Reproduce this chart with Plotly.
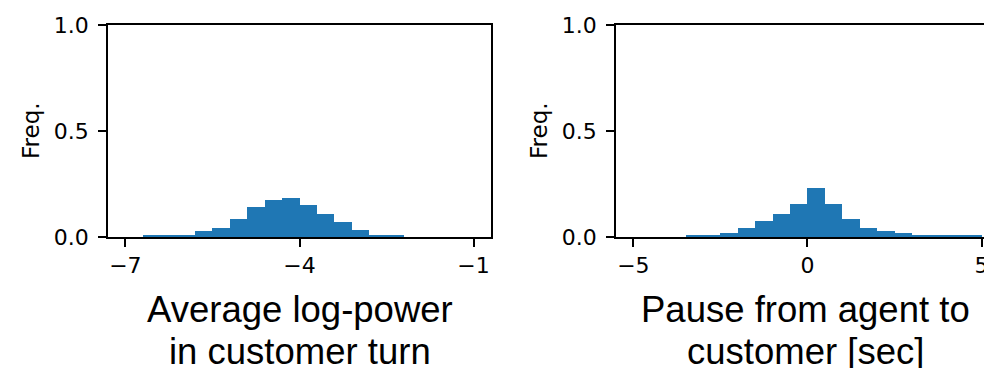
import plotly.graph_objects as go

# ---- data ----
power_bin_left = [-7.0, -6.7, -6.4, -6.1, -5.8, -5.5, -5.2, -4.9, -4.6, -4.3,
                  -4.0, -3.7, -3.4, -3.1, -2.8, -2.5, -2.2, -1.9, -1.6, -1.3]
power_bin_width = 0.3
power_freq = [0.0, 0.008, 0.008, 0.009, 0.027, 0.044, 0.083, 0.140, 0.176, 0.184,
              0.150, 0.110, 0.069, 0.035, 0.010, 0.010, 0.0, 0.0, 0.0, 0.0]

pause_bin_left = [-5.0, -4.5, -4.0, -3.5, -3.0, -2.5, -2.0, -1.5, -1.0, -0.5,
                  0.0, 0.5, 1.0, 1.5, 2.0, 2.5, 3.0, 3.5, 4.0, 4.5]
pause_bin_width = 0.5
pause_freq = [0.0, 0.0, 0.0, 0.009, 0.009, 0.017, 0.042, 0.075, 0.108, 0.157,
              0.231, 0.157, 0.083, 0.042, 0.027, 0.017, 0.009, 0.009, 0.009, 0.009]

power_ticks = [-7, -4, -1]
pause_ticks = [-5, 0, 5]
freq_ticks = [0.0, 0.5, 1.0]

y_label = "Freq."
power_title = ["Average log-power", "in customer turn"]
pause_title = ["Pause from agent to", "customer [sec]"]

BAR = "#1f77b4"
OFF = 8  # page body margin
W, H = 992 - OFF, 368 - OFF


def px(x):
    return (x - OFF) / W


def py(y):
    return 1 - (y - OFF) / H


fig = go.Figure()
fig.add_trace(go.Bar(x=power_bin_left, y=power_freq, width=power_bin_width, offset=0,
                     marker=dict(color=BAR, line=dict(width=0)),
                     xaxis="x", yaxis="y", showlegend=False))
fig.add_trace(go.Bar(x=pause_bin_left, y=pause_freq, width=pause_bin_width, offset=0,
                     marker=dict(color=BAR, line=dict(width=0)),
                     xaxis="x2", yaxis="y2", showlegend=False))

tickfont = dict(family="DejaVu Sans", size=22, color="black")
common = dict(showline=True, linecolor="black", linewidth=1.5, ticks="outside",
              ticklen=8, tickwidth=1.5, tickcolor="black", showgrid=False,
              zeroline=False, tickfont=tickfont, automargin=False)

ydom = [py(237), py(25)]

fig.update_layout(
    width=W, height=H,
    margin=dict(l=0, r=0, t=0, b=0, pad=0),
    paper_bgcolor="white", plot_bgcolor="white",
    bargap=0,
    xaxis=dict(domain=[px(108), px(491)], range=[-7.3, -0.7], tickvals=power_ticks,
               mirror=True, anchor="y", **common),
    yaxis=dict(domain=ydom, range=[0, 1], tickvals=freq_ticks, tickformat=".1f",
               mirror=True, anchor="x", ticklabelstandoff=5, **common),
    xaxis2=dict(domain=[px(616), 1.0], range=[-5.5, 5.3], tickvals=pause_ticks,
                mirror=True, anchor="y2", **common),
    yaxis2=dict(domain=ydom, range=[0, 1], tickvals=freq_ticks, tickformat=".1f",
                mirror=False, anchor="x2", ticklabelstandoff=5, **common),
)

ann = []
for xc in (31, 539):
    ann.append(dict(text=y_label, x=px(xc), y=py(131), xref="paper", yref="paper",
                    textangle=-90, showarrow=False, xanchor="center", yanchor="middle",
                    font=dict(family="DejaVu Sans", size=23, color="black")))
for xc, lines in ((300, power_title), (805, pause_title)):
    for yc, txt in zip((309, 351), lines):
        ann.append(dict(text=txt, x=px(xc), y=py(yc), xref="paper", yref="paper",
                        showarrow=False, xanchor="center", yanchor="middle",
                        font=dict(family="Liberation Sans, Arial", size=36.5,
                                  color="black")))
fig.update_layout(annotations=ann)

fig.write_html("out.html")
